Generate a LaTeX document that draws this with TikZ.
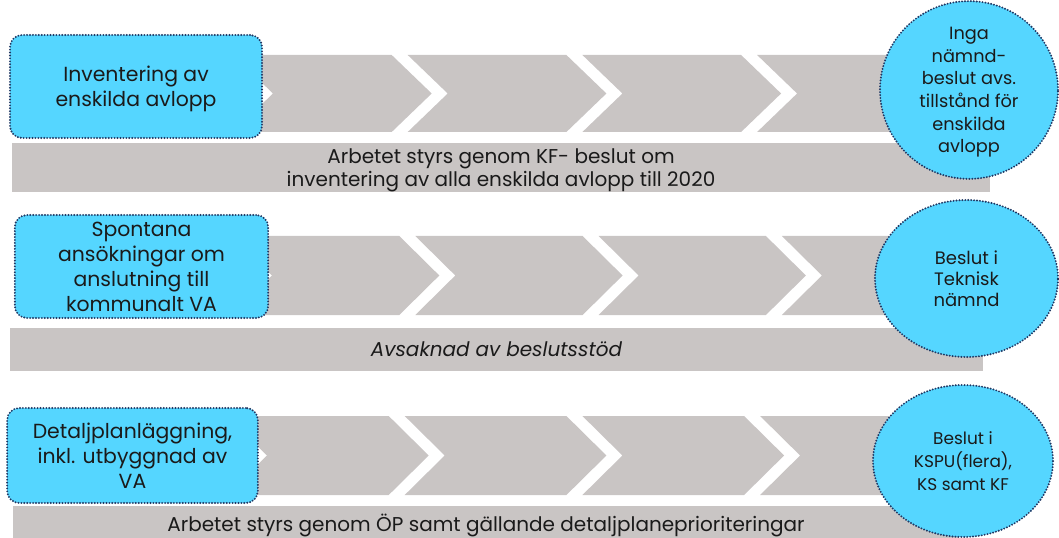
\documentclass[tikz,border=0pt]{standalone}
\usepackage{fontspec}
\setmainfont{Poppins}
\usetikzlibrary{shapes.geometric}

\definecolor{strip}{HTML}{C9C5C4}
\definecolor{boxfill}{HTML}{55D6FF}
\definecolor{dotline}{HTML}{1F3864}
\definecolor{ink}{HTML}{1A1A1A}

\tikzset{
	chev/.style={fill=strip},
	dotborder/.style={draw=dotline,line width=1.6pt,line cap=round,
		dash pattern=on 0pt off 2.2pt},
	stepbox/.style={dotborder,fill=boxfill,
		rounded corners=9pt,align=center,text=ink,inner sep=0pt,
		font=\fontsize{15.3}{18.75}\selectfont},
	bar/.style={fill=strip,align=center,text=ink,inner sep=0pt,
		font=\fontsize{15}{17.25}\selectfont},
	decision/.style={ellipse,dotborder,
		fill=boxfill,align=center,text=ink,inner sep=0pt},
}

\begin{document}
\begin{tikzpicture}[x=0.75pt,y=-0.75pt]
	\useasboundingbox (0,0) rectangle (1059,538);

	% grey arrow strips
	\def\dp{40}
	\def\gp{16}
	\foreach \yt/\yb/\xn/\st in {55/132/273/174.7, 236/315/272/183.3, 416/495/267/177.7}{
		\pgfmathsetmacro\ym{(\yt+\yb)/2}
		\fill[chev] (30,\yt) -- (\xn-\gp-\dp,\yt) -- (\xn-\gp,\ym) -- (\xn-\gp-\dp,\yb) -- (30,\yb) -- cycle;
		\foreach \k in {1,2,3}{
			\pgfmathsetmacro\xl{\xn+(\k-1)*\st}
			\pgfmathsetmacro\xr{\xn+\k*\st-\gp}
			\fill[chev] (\xl-\dp,\yt) -- (\xr-\dp,\yt) -- (\xr,\ym) -- (\xr-\dp,\yb) -- (\xl-\dp,\yb) -- (\xl,\ym) -- cycle;
		}
		\pgfmathsetmacro\xl{\xn+3*\st}
		\fill[chev] (\xl-\dp,\yt) -- (960,\yt) -- (960,\yb) -- (\xl-\dp,\yb) -- (\xl,\ym) -- cycle;
	}

	% bars below the strips
	\node[bar,minimum width=733.5pt,minimum height=36.75pt] (bar1) at (501,167.5)
		{Arbetet styrs genom KF- beslut om\\inventering av alla enskilda avlopp till 2020};
	\node[bar,minimum width=729.75pt,minimum height=32.25pt] (bar2) at (496.5,349.5)
		{\itshape Avsaknad av beslutsstöd};
	\node[bar,minimum width=709.5pt,minimum height=24.75pt] (bar3) at (486,522.5)
		{Arbetet styrs genom ÖP samt gällande detaljplaneprioriteringar};

	% starting points
	\node[stepbox,minimum width=189pt,minimum height=77.25pt] (start1) at (136,86.5)
		{Inventering av\\enskilda avlopp};
	\node[stepbox,minimum width=190pt,minimum height=77.25pt] (start2) at (141.5,266.5)
		{Spontana\\ansökningar om\\anslutning till\\kommunalt VA};
	\node[stepbox,minimum width=188pt,minimum height=71.25pt] (start3) at (132.5,455.5)
		{Detaljplanläggning,\\inkl. utbyggnad av\\VA};

	% decisions
	\node[decision,minimum width=133.5pt,minimum height=117pt,
		font=\fontsize{13.3}{17}\selectfont] (end1) at (969,90)
		{Inga\\nämnd-\\beslut avs.\\tillstånd för\\enskilda\\avlopp};
	\node[decision,minimum width=137.25pt,minimum height=117.75pt,
		font=\fontsize{13.5}{16}\selectfont] (end2) at (966.5,278.5)
		{Beslut i\\Teknisk\\nämnd};
	\node[decision,minimum width=135pt,minimum height=114pt,
		font=\fontsize{12.7}{17.25}\selectfont] (end3) at (963,461)
		{Beslut i\\KSPU(flera),\\KS samt KF};
\end{tikzpicture}
\end{document}
